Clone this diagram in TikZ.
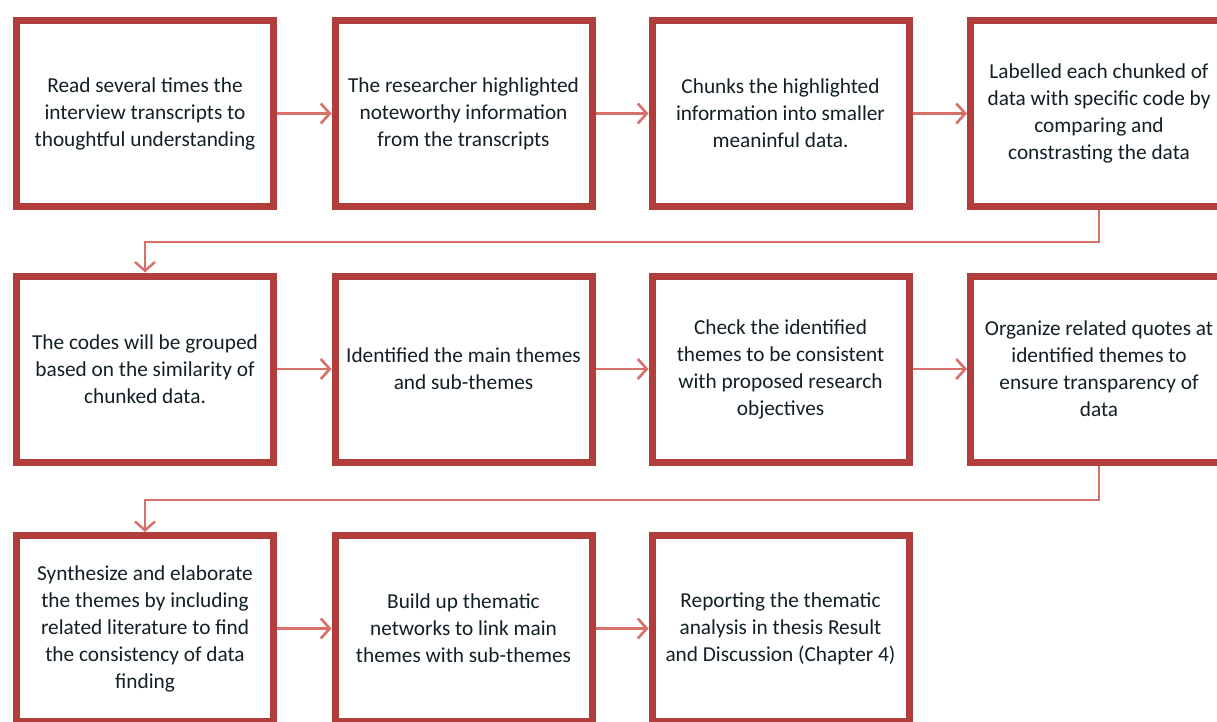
\documentclass[tikz,border=0pt]{standalone}
\usepackage{fontspec}
\setmainfont{Carlito}
\usetikzlibrary{arrows.meta,shadows}
\definecolor{boxred}{RGB}{178,62,60}
\definecolor{linkred}{RGB}{214,112,104}
\definecolor{textdark}{RGB}{18,32,38}
\tikzset{
  stepbox/.style={draw=boxred, line width=7pt, fill=white,
    minimum width=257pt, minimum height=186pt, inner sep=0pt,
    align=center, text=textdark,
    font=\fontsize{21.3pt}{27pt}\selectfont,
    drop shadow={opacity=0.3, shadow xshift=1pt, shadow yshift=-3pt}},
  flow/.style={draw=linkred, line width=2.6pt,
    -{Straight Barb[length=9pt, width=20pt, line width=2.6pt]}},
  link/.style={draw=linkred, line width=2.2pt,
    -{Straight Barb[length=9pt, width=20pt, line width=2.4pt]}}
}
\begin{document}
\begin{tikzpicture}[x=1pt, y=-1pt]
  \useasboundingbox (0,0) rectangle (1217,722);
  \clip (0,0) rectangle (1217,722);
  \fill[white] (0,0) rectangle (1217,722);

  % first row
  \node[stepbox] (a1) at (145,113.5) {Read several times the\\interview transcripts to\\thoughtful understanding};
  \node[stepbox] (a2) at (463.5,113.5) {The researcher highlighted\\noteworthy information\\from the transcripts};
  \node[stepbox] (a3) at (780.5,113.5) {Chunks the highlighted\\information into smaller\\meaninful data.};
  \node[stepbox] (a4) at (1099,113.5) {Labelled each chunked of\\data with specific code by\\comparing and\\constrasting the data};

  % second row
  \node[stepbox] (b1) at (145,369) {The codes will be grouped\\based on the similarity of\\chunked data.};
  \node[stepbox] (b2) at (463.5,369) {Identified the main themes\\and sub-themes};
  \node[stepbox] (b3) at (780.5,369) {Check the identified\\themes to be consistent\\with proposed research\\objectives};
  \node[stepbox] (b4) at (1099,369) {Organize related quotes at\\identified themes to\\ensure transparency of\\data};

  % third row
  \node[stepbox] (c1) at (145,628.5) {Synthesize and elaborate\\the themes by including\\related literature to find\\the consistency of data\\finding};
  \node[stepbox] (c2) at (463.5,628.5) {Build up thematic\\networks to link main\\themes with sub-themes};
  \node[stepbox] (c3) at (780.5,628.5) {Reporting the thematic\\analysis in thesis Result\\and Discussion (Chapter 4)};

  % arrows within rows
  \draw[flow] (a1.east) -- (a2.west);
  \draw[flow] (a2.east) -- (a3.west);
  \draw[flow] (a3.east) -- (a4.west);
  \draw[flow] (b1.east) -- (b2.west);
  \draw[flow] (b2.east) -- (b3.west);
  \draw[flow] (b3.east) -- (b4.west);
  \draw[flow] (c1.east) -- (c2.west);
  \draw[flow] (c2.east) -- (c3.west);

  % return links between rows
  \coordinate (r1) at (0,242);
  \coordinate (r2) at (0,500);
  \draw[link] (a4.south) -- (a4.south |- r1) -| (b1.north);
  \draw[link] (b4.south) -- (b4.south |- r2) -| (c1.north);
\end{tikzpicture}
\end{document}
